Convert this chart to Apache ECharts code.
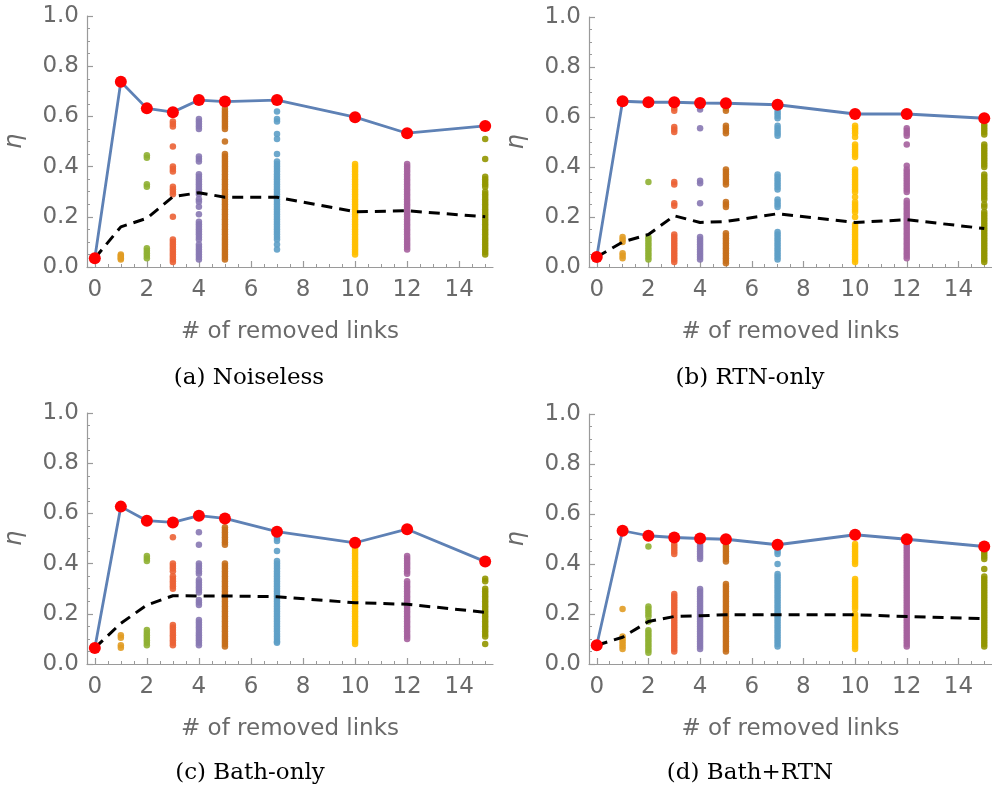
<!DOCTYPE html>
<html>
<head>
<meta charset="utf-8">
<script src="https://cdn.jsdelivr.net/npm/echarts@6/dist/echarts.min.js"></script>
<style>
  html, body { margin: 0; padding: 0; background: #fff; }
  #chart { width: 992px; height: 794px; }
</style>
</head>
<body>
<div id="chart"></div>
<script>
// x positions of the summary curves and of the sample columns
const linkCounts = [0, 1, 2, 3, 4, 5, 7, 10, 12, 15];
const sampleCounts = [1, 2, 3, 4, 5, 7, 10, 12, 15];
const xTicks = [0, 2, 4, 6, 8, 10, 12, 14];
const xMinorTicks = [0.5, 1, 1.5, 2.5, 3, 3.5, 4.5, 5, 5.5, 6.5, 7, 7.5, 8.5, 9, 9.5, 10.5, 11, 11.5, 12.5, 13, 13.5, 14.5, 15];

const captions = ['(a) Noiseless', '(b) RTN-only', '(c) Bath-only', '(d) Bath+RTN'];

// best efficiency (solid) and mean efficiency (dashed) per link count
const noiselessMax = [0.035, 0.738, 0.632, 0.617, 0.665, 0.659, 0.665, 0.597, 0.533, 0.562];
const noiselessMean = [0.035, 0.16, 0.194, 0.28, 0.296, 0.278, 0.278, 0.22, 0.224, 0.20];
const rtnMax = [0.04, 0.663, 0.659, 0.659, 0.656, 0.655, 0.649, 0.612, 0.612, 0.595];
const rtnMean = [0.04, 0.10, 0.13, 0.205, 0.178, 0.182, 0.213, 0.178, 0.189, 0.154];
const bathMax = [0.064, 0.627, 0.571, 0.564, 0.591, 0.58, 0.527, 0.483, 0.537, 0.408];
const bathMean = [0.064, 0.162, 0.235, 0.272, 0.271, 0.271, 0.268, 0.244, 0.238, 0.206];
const bathRtnMax = [0.075, 0.533, 0.513, 0.506, 0.502, 0.499, 0.477, 0.517, 0.499, 0.47];
const bathRtnMean = [0.075, 0.107, 0.17, 0.19, 0.193, 0.197, 0.197, 0.197, 0.19, 0.181];

// individual samples, one list per link count in sampleCounts order
const noiselessSamples = [
  [0.05, 0.045, 0.04, 0.035, 0.03],
  [0.445, 0.435, 0.33, 0.32, 0.075, 0.065, 0.055, 0.045, 0.035],
  [0.58, 0.57, 0.56, 0.48, 0.40, 0.39, 0.38, 0.32, 0.31, 0.30, 0.29, 0.20, 0.11, 0.10, 0.09, 0.08, 0.07, 0.06, 0.05, 0.04, 0.03, 0.02],
  [0.59, 0.58, 0.57, 0.56, 0.55, 0.44, 0.43, 0.42, 0.37, 0.36, 0.35, 0.34, 0.33, 0.32, 0.31, 0.30, 0.29, 0.27, 0.26, 0.24, 0.21, 0.18, 0.17, 0.16, 0.15, 0.14, 0.13, 0.12, 0.11, 0.09, 0.08, 0.07, 0.06, 0.05, 0.04, 0.03],
  [0.63, 0.62, 0.61, 0.60, 0.59, 0.58, 0.57, 0.56, 0.55, 0.50, 0.45, 0.44, 0.43, 0.42, 0.41, 0.40, 0.39, 0.38, 0.37, 0.36, 0.35, 0.34, 0.33, 0.32, 0.31, 0.30, 0.29, 0.28, 0.27, 0.26, 0.25, 0.24, 0.23, 0.22, 0.21, 0.20, 0.19, 0.18, 0.17, 0.16, 0.15, 0.14, 0.13, 0.12, 0.11, 0.10, 0.09, 0.08, 0.07, 0.06, 0.05, 0.04, 0.03],
  [0.62, 0.59, 0.58, 0.53, 0.51, 0.45, 0.42, 0.41, 0.40, 0.39, 0.38, 0.37, 0.36, 0.35, 0.34, 0.33, 0.32, 0.31, 0.30, 0.29, 0.28, 0.27, 0.26, 0.25, 0.24, 0.23, 0.22, 0.21, 0.20, 0.19, 0.18, 0.17, 0.16, 0.15, 0.14, 0.13, 0.12, 0.11, 0.09, 0.07],
  [0.41, 0.40, 0.39, 0.38, 0.37, 0.36, 0.35, 0.34, 0.33, 0.32, 0.31, 0.30, 0.29, 0.28, 0.27, 0.26, 0.25, 0.24, 0.23, 0.22, 0.21, 0.20, 0.19, 0.18, 0.17, 0.16, 0.15, 0.14, 0.13, 0.12, 0.11, 0.10, 0.09, 0.08, 0.07, 0.06, 0.05],
  [0.41, 0.40, 0.39, 0.38, 0.37, 0.36, 0.35, 0.34, 0.33, 0.32, 0.31, 0.30, 0.29, 0.28, 0.27, 0.26, 0.25, 0.24, 0.23, 0.22, 0.21, 0.20, 0.19, 0.18, 0.17, 0.16, 0.15, 0.14, 0.13, 0.12, 0.11, 0.10, 0.09, 0.08, 0.07],
  [0.51, 0.43, 0.36, 0.35, 0.34, 0.33, 0.32, 0.30, 0.29, 0.28, 0.27, 0.26, 0.25, 0.24, 0.23, 0.22, 0.21, 0.20, 0.19, 0.18, 0.17, 0.16, 0.15, 0.14, 0.13, 0.12, 0.11, 0.10, 0.09, 0.08, 0.07, 0.06, 0.05]
];
const rtnSamples = [
  [0.12, 0.11, 0.10, 0.055, 0.045, 0.035],
  [0.655, 0.34, 0.12, 0.11, 0.10, 0.09, 0.08, 0.07, 0.06, 0.05, 0.04, 0.03],
  [0.645, 0.635, 0.625, 0.56, 0.55, 0.54, 0.34, 0.33, 0.255, 0.245, 0.13, 0.12, 0.11, 0.10, 0.09, 0.08, 0.07, 0.06, 0.05, 0.04, 0.03, 0.02],
  [0.64, 0.63, 0.555, 0.345, 0.335, 0.255, 0.12, 0.11, 0.10, 0.09, 0.08, 0.07, 0.06, 0.05, 0.04, 0.03],
  [0.645, 0.635, 0.625, 0.565, 0.555, 0.545, 0.535, 0.39, 0.38, 0.37, 0.36, 0.35, 0.34, 0.33, 0.26, 0.25, 0.24, 0.135, 0.125, 0.115, 0.105, 0.095, 0.085, 0.075, 0.065, 0.055, 0.045, 0.035, 0.025, 0.015],
  [0.625, 0.615, 0.605, 0.595, 0.565, 0.555, 0.545, 0.535, 0.525, 0.37, 0.36, 0.35, 0.34, 0.33, 0.32, 0.31, 0.27, 0.26, 0.25, 0.24, 0.14, 0.13, 0.12, 0.11, 0.10, 0.09, 0.08, 0.07, 0.06, 0.05, 0.04, 0.03],
  [0.565, 0.555, 0.545, 0.535, 0.52, 0.49, 0.48, 0.47, 0.46, 0.45, 0.44, 0.39, 0.38, 0.37, 0.36, 0.35, 0.34, 0.33, 0.32, 0.31, 0.30, 0.28, 0.26, 0.25, 0.24, 0.23, 0.22, 0.20, 0.17, 0.16, 0.15, 0.14, 0.13, 0.12, 0.11, 0.10, 0.09, 0.08, 0.07, 0.06, 0.05, 0.04, 0.03, 0.02],
  [0.555, 0.545, 0.535, 0.525, 0.49, 0.405, 0.39, 0.38, 0.37, 0.36, 0.35, 0.34, 0.33, 0.32, 0.31, 0.30, 0.265, 0.255, 0.245, 0.235, 0.225, 0.215, 0.205, 0.195, 0.185, 0.175, 0.165, 0.155, 0.145, 0.135, 0.125, 0.115, 0.105, 0.095, 0.085, 0.075, 0.065, 0.055, 0.045, 0.035],
  [0.57, 0.56, 0.55, 0.54, 0.53, 0.49, 0.48, 0.47, 0.46, 0.45, 0.44, 0.43, 0.42, 0.41, 0.40, 0.37, 0.36, 0.35, 0.34, 0.33, 0.32, 0.31, 0.30, 0.29, 0.28, 0.27, 0.25, 0.24, 0.22, 0.21, 0.20, 0.19, 0.18, 0.17, 0.16, 0.15, 0.14, 0.13, 0.12, 0.11, 0.10, 0.09, 0.08, 0.07, 0.06, 0.05, 0.04, 0.03, 0.02]
];
const bathSamples = [
  [0.115, 0.105, 0.075, 0.065],
  [0.43, 0.42, 0.41, 0.135, 0.125, 0.115, 0.105, 0.095, 0.085, 0.075],
  [0.505, 0.40, 0.39, 0.38, 0.37, 0.35, 0.34, 0.33, 0.32, 0.31, 0.30, 0.155, 0.145, 0.135, 0.125, 0.115, 0.105, 0.095, 0.085, 0.075],
  [0.525, 0.475, 0.40, 0.39, 0.38, 0.37, 0.36, 0.335, 0.325, 0.315, 0.305, 0.295, 0.285, 0.255, 0.245, 0.235, 0.175, 0.165, 0.155, 0.145, 0.135, 0.125, 0.115, 0.105, 0.095, 0.085, 0.075],
  [0.545, 0.535, 0.525, 0.515, 0.505, 0.495, 0.485, 0.475, 0.40, 0.39, 0.38, 0.37, 0.36, 0.35, 0.34, 0.33, 0.32, 0.31, 0.30, 0.29, 0.28, 0.27, 0.26, 0.25, 0.24, 0.23, 0.22, 0.21, 0.20, 0.19, 0.18, 0.17, 0.16, 0.15, 0.14, 0.13, 0.12, 0.11, 0.10, 0.09, 0.08, 0.07],
  [0.51, 0.50, 0.49, 0.45, 0.41, 0.40, 0.39, 0.38, 0.37, 0.36, 0.35, 0.34, 0.33, 0.32, 0.31, 0.30, 0.29, 0.28, 0.27, 0.26, 0.25, 0.24, 0.23, 0.22, 0.21, 0.20, 0.19, 0.18, 0.17, 0.16, 0.15, 0.14, 0.13, 0.12, 0.11, 0.10, 0.09, 0.085],
  [0.47, 0.46, 0.45, 0.44, 0.43, 0.42, 0.41, 0.40, 0.39, 0.38, 0.37, 0.36, 0.35, 0.34, 0.33, 0.32, 0.31, 0.30, 0.29, 0.28, 0.27, 0.26, 0.25, 0.24, 0.23, 0.22, 0.21, 0.20, 0.19, 0.18, 0.17, 0.16, 0.15, 0.14, 0.13, 0.12, 0.11, 0.10, 0.09, 0.08],
  [0.43, 0.42, 0.41, 0.40, 0.39, 0.38, 0.37, 0.36, 0.33, 0.32, 0.31, 0.30, 0.29, 0.28, 0.27, 0.26, 0.25, 0.24, 0.23, 0.22, 0.21, 0.20, 0.19, 0.18, 0.17, 0.16, 0.15, 0.14, 0.13, 0.12, 0.11, 0.10],
  [0.34, 0.33, 0.30, 0.29, 0.28, 0.27, 0.26, 0.25, 0.24, 0.23, 0.22, 0.21, 0.20, 0.19, 0.18, 0.17, 0.16, 0.15, 0.14, 0.13, 0.12, 0.11, 0.08]
];
const bathRtnSamples = [
  [0.22, 0.11, 0.10, 0.09, 0.08, 0.07, 0.06],
  [0.47, 0.23, 0.22, 0.21, 0.20, 0.19, 0.17, 0.135, 0.125, 0.115, 0.105, 0.095, 0.085, 0.075, 0.065, 0.055, 0.045],
  [0.48, 0.47, 0.46, 0.45, 0.44, 0.28, 0.27, 0.26, 0.25, 0.24, 0.23, 0.22, 0.21, 0.20, 0.19, 0.18, 0.17, 0.16, 0.15, 0.14, 0.13, 0.12, 0.11, 0.10, 0.09, 0.08, 0.07, 0.06, 0.05],
  [0.48, 0.47, 0.46, 0.45, 0.44, 0.43, 0.42, 0.30, 0.29, 0.28, 0.27, 0.26, 0.25, 0.24, 0.23, 0.22, 0.21, 0.20, 0.19, 0.18, 0.17, 0.16, 0.15, 0.14, 0.13, 0.12, 0.11, 0.10, 0.09, 0.08, 0.07, 0.06],
  [0.48, 0.47, 0.46, 0.45, 0.44, 0.43, 0.42, 0.41, 0.32, 0.31, 0.30, 0.29, 0.28, 0.27, 0.26, 0.25, 0.24, 0.23, 0.22, 0.21, 0.20, 0.19, 0.18, 0.17, 0.16, 0.15, 0.14, 0.13, 0.12, 0.11, 0.10, 0.09, 0.08, 0.07, 0.06, 0.05],
  [0.46, 0.45, 0.44, 0.40, 0.36, 0.35, 0.34, 0.33, 0.32, 0.31, 0.30, 0.29, 0.28, 0.27, 0.26, 0.25, 0.24, 0.23, 0.22, 0.21, 0.20, 0.19, 0.18, 0.17, 0.16, 0.15, 0.14, 0.13, 0.12, 0.11, 0.10, 0.09, 0.08, 0.07],
  [0.48, 0.47, 0.46, 0.45, 0.44, 0.43, 0.42, 0.41, 0.40, 0.34, 0.33, 0.32, 0.31, 0.30, 0.29, 0.28, 0.27, 0.26, 0.25, 0.24, 0.23, 0.22, 0.20, 0.19, 0.18, 0.17, 0.16, 0.15, 0.14, 0.13, 0.12, 0.11, 0.10, 0.09, 0.08, 0.07, 0.06],
  [0.48, 0.47, 0.46, 0.45, 0.44, 0.43, 0.42, 0.41, 0.40, 0.39, 0.38, 0.37, 0.36, 0.35, 0.34, 0.33, 0.32, 0.31, 0.30, 0.29, 0.28, 0.27, 0.26, 0.25, 0.24, 0.23, 0.22, 0.21, 0.20, 0.19, 0.18, 0.17, 0.16, 0.15, 0.14, 0.13, 0.12, 0.11, 0.10, 0.09, 0.08, 0.07],
  [0.46, 0.45, 0.44, 0.43, 0.42, 0.38, 0.35, 0.34, 0.33, 0.32, 0.31, 0.30, 0.29, 0.28, 0.27, 0.26, 0.25, 0.24, 0.23, 0.22, 0.21, 0.20, 0.19, 0.18, 0.17, 0.16, 0.15, 0.14, 0.13, 0.12, 0.11, 0.10, 0.09, 0.08, 0.07]
];

// sample colours, one per link count
const sampleColors = ['#E19C24', '#8FB032', '#EB6235', '#8778B3', '#C56E1A', '#5D9EC7', '#FFBF00', '#A5609D', '#929600'];

const panels = [
  { max: noiselessMax, mean: noiselessMean, samples: noiselessSamples },
  { max: rtnMax, mean: rtnMean, samples: rtnSamples },
  { max: bathMax, mean: bathMean, samples: bathSamples },
  { max: bathRtnMax, mean: bathRtnMean, samples: bathRtnSamples }
];

// panel placement
const gridBoxes = [
  { left: 87, top: 16, width: 406, height: 251 },
  { left: 589, top: 17, width: 404, height: 250 },
  { left: 87, top: 413, width: 406, height: 251 },
  { left: 589, top: 414, width: 404, height: 250 }
];
const captionPos = [[249, 378], [750, 378], [250, 773], [750, 773]];

const axisGray = '#9a9a9a';
const labelGray = '#6a6a6a';

const grid = [], xAxis = [], yAxis = [], series = [], graphic = [];

panels.forEach((p, i) => {
  grid.push(Object.assign({ containLabel: false }, gridBoxes[i]));

  xAxis.push({
    gridIndex: i, type: 'value', min: -0.3, max: 15.3,
    axisLine: { show: true, onZero: false, lineStyle: { color: axisGray, width: 1.2 } },
    axisTick: { show: true, inside: true, length: 6, customValues: xTicks, lineStyle: { color: axisGray, width: 1.2 } },
    axisLabel: { show: true, customValues: xTicks, color: labelGray, fontSize: 23, fontFamily: 'DejaVu Sans', margin: 12 },
    splitLine: { show: false },
    name: '# of removed links', nameLocation: 'middle', nameGap: 54,
    nameTextStyle: { color: labelGray, fontSize: 23, fontFamily: 'DejaVu Sans' }
  });
  xAxis.push({
    gridIndex: i, type: 'value', min: -0.3, max: 15.3, position: 'bottom',
    axisLine: { show: false },
    axisTick: { show: true, inside: true, length: 3, customValues: xMinorTicks, lineStyle: { color: axisGray, width: 1 } },
    axisLabel: { show: false },
    splitLine: { show: false }
  });

  yAxis.push({
    gridIndex: i, type: 'value', min: 0, max: 1, interval: 0.2,
    axisLine: { show: true, onZero: false, lineStyle: { color: axisGray, width: 1.2 } },
    axisTick: { show: true, inside: true, length: 6, lineStyle: { color: axisGray, width: 1.2 } },
    minorTick: { show: true, splitNumber: 4, length: 3, lineStyle: { color: axisGray, width: 1 } },
    axisLabel: { formatter: v => v.toFixed(1), color: labelGray, fontSize: 23, fontFamily: 'DejaVu Sans', margin: 8 },
    splitLine: { show: false },
    name: 'η', nameLocation: 'middle', nameGap: 60, nameRotate: 90,
    nameTextStyle: { color: labelGray, fontSize: 24, fontStyle: 'italic', fontFamily: 'DejaVu Sans' }
  });

  p.samples.forEach((vals, j) => {
    series.push({
      type: 'scatter', xAxisIndex: 2 * i, yAxisIndex: i, z: 2,
      symbol: 'circle', symbolSize: 6.5,
      itemStyle: { color: sampleColors[j], opacity: 0.9 },
      data: vals.map(v => [sampleCounts[j], v])
    });
  });

  series.push({
    type: 'line', xAxisIndex: 2 * i, yAxisIndex: i, z: 3,
    symbol: 'none',
    lineStyle: { color: '#000', width: 3, type: [11, 7] },
    data: p.mean.map((v, k) => [linkCounts[k], v])
  });
  series.push({
    type: 'line', xAxisIndex: 2 * i, yAxisIndex: i, z: 4,
    symbol: 'circle', symbolSize: 12,
    itemStyle: { color: '#ff0000' },
    lineStyle: { color: '#5E81B5', width: 2.8 },
    data: p.max.map((v, k) => [linkCounts[k], v])
  });

  graphic.push({
    type: 'text', x: captionPos[i][0], y: captionPos[i][1],
    style: {
      text: captions[i], fill: '#000',
      font: '23px "DejaVu Serif"', align: 'center', verticalAlign: 'middle'
    }
  });
});

const chart = echarts.init(document.getElementById('chart'), null, { renderer: 'canvas' });
chart.setOption({
  animation: false,
  backgroundColor: '#fff',
  grid, xAxis, yAxis, series, graphic
});
</script>
</body>
</html>
